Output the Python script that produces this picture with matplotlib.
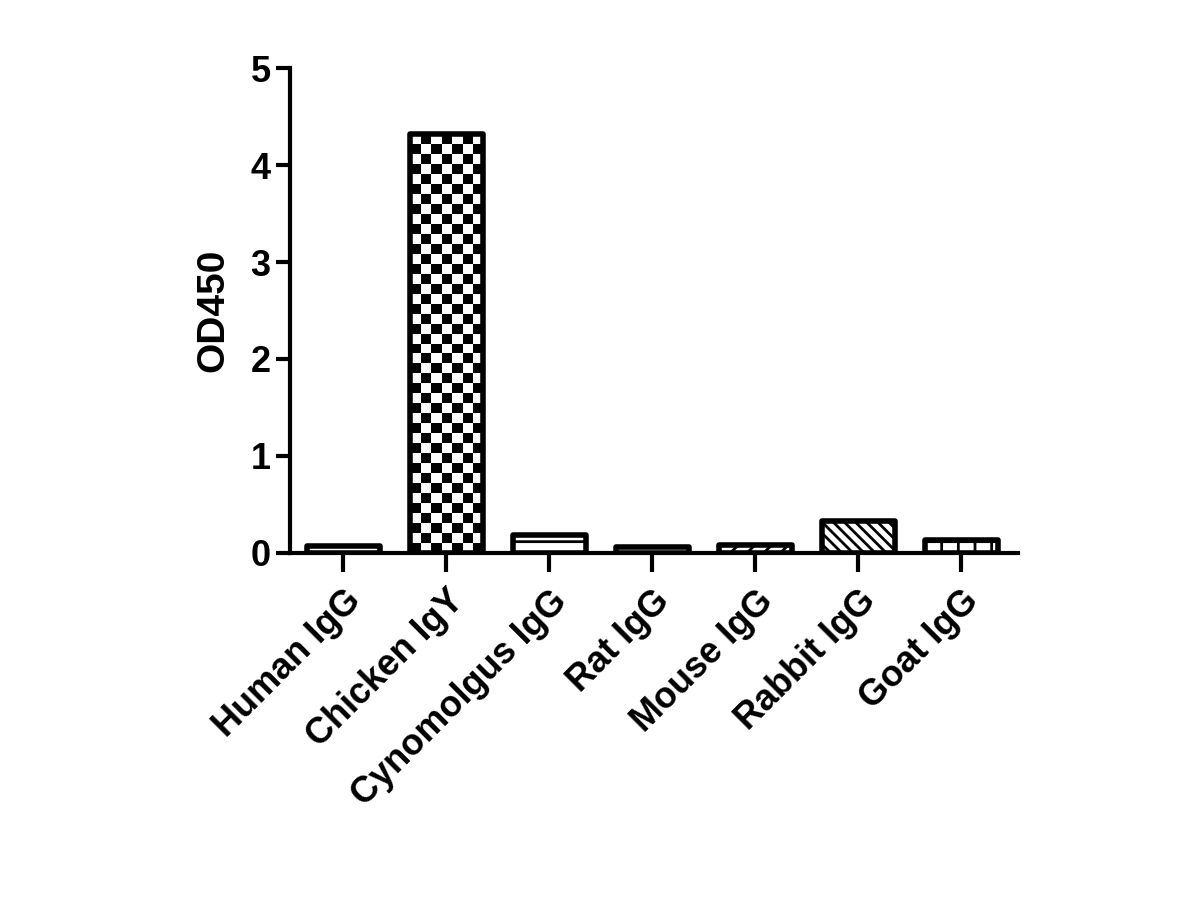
import numpy as np
import matplotlib
matplotlib.use("Agg")
import matplotlib.pyplot as plt

categorias = ["Human IgG", "Chicken IgY", "Cynomolgus IgG", "Rat IgG",
              "Mouse IgG", "Rabbit IgG", "Goat IgG"]
od450 = [0.07, 4.32, 0.19, 0.06, 0.08, 0.33, 0.13]
tramas = ["--", None, "-", "--", "//", "\\\\\\", "+"]

plt.rcParams['font.family'] = ['Liberation Sans', 'DejaVu Sans']
plt.rcParams['font.weight'] = 'bold'
plt.rcParams['hatch.linewidth'] = 2.0

fig = plt.figure(figsize=(12, 9), dpi=100)
ax = fig.add_axes([0.2417, 0.3856, 0.6066, 0.5388])

x = np.arange(len(categorias))
barras = ax.bar(x, od450, width=0.71, color='white', edgecolor='black',
                linewidth=4, zorder=3)
for b, h in zip(barras, tramas):
    b.set_joinstyle('round')
    if h:
        b.set_hatch(h)

# tablero de ajedrez para Chicken IgY
b = barras[1]
b.set_facecolor('none')
x0, w, hgt = b.get_x(), b.get_width(), b.get_height()
ncol = 7
nfil = 42
tablero = (np.indices((nfil, ncol)).sum(axis=0) % 2).astype(float)
img = ax.imshow(tablero, cmap='gray', extent=[x0, x0 + w, 0, hgt],
                aspect='auto', interpolation='nearest', zorder=2.5,
                origin='lower')
img.set_clip_path(b)

ax.set_xlim(-0.515, 6.55)
ax.set_ylim(0, 5)
ax.set_yticks([0, 1, 2, 3, 4, 5])
ax.set_xticks(x)
ax.set_xticklabels(categorias, rotation=45, ha='right', rotation_mode='anchor',
                   fontsize=26, fontweight='bold')
ax.tick_params(axis='y', labelsize=26, width=3, length=10, pad=4)
ax.tick_params(axis='x', width=3, length=14, pad=8)
for lbl in ax.get_yticklabels():
    lbl.set_fontweight('bold')
ax.set_ylabel('OD450', fontsize=28, fontweight='bold', labelpad=14)

for s in ['top', 'right']:
    ax.spines[s].set_visible(False)
for s in ['left', 'bottom']:
    ax.spines[s].set_linewidth(3)

fig.savefig('out.png', dpi=100)
